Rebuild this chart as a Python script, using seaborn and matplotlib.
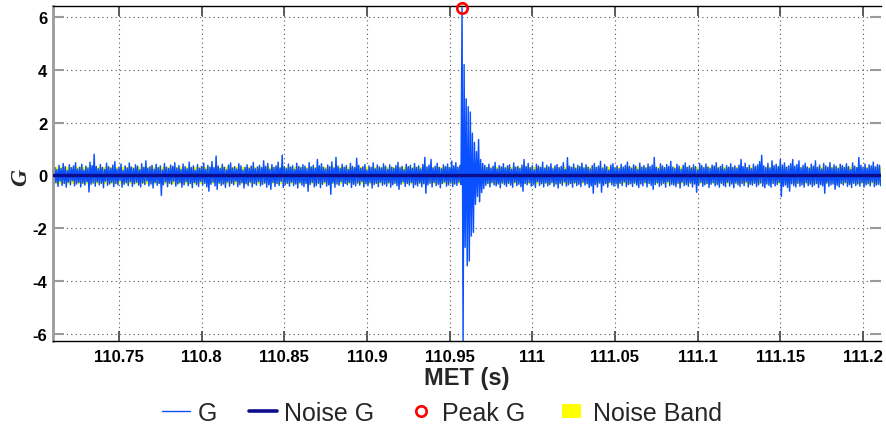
import numpy as np
import pandas as pd
import matplotlib
matplotlib.use("Agg")
import matplotlib.pyplot as plt
import seaborn as sns
from matplotlib.lines import Line2D
from matplotlib.patches import Patch, Rectangle
from matplotlib.legend_handler import HandlerPatch

# ---- data: G trace stored as per-bin maximum / minimum ----
met_start = 110.71
bin_width = 0.00125

g_max = [
    0.54, 0.30, 0.22, 0.38, 0.26, 0.45, 0.33, 0.18, 0.40, 0.29, 0.36, 0.48, 0.24, 0.31, 0.42, 0.20, 0.35, 0.28, 0.50, 0.37,
    0.80, 0.34, 0.25, 0.41, 0.30, 0.22, 0.46, 0.33, 0.27, 0.39, 0.52, 0.24, 0.31, 0.43, 0.19, 0.36, 0.28, 0.47, 0.32, 0.26,
    0.40, 0.35, 0.21, 0.44, 0.30, 0.55, 0.27, 0.33, 0.38, 0.23, 0.42, 0.29, 0.36, 0.20, 0.45, 0.31, 0.26, 0.39, 0.34, 0.48,
    0.28, 0.37, 0.22, 0.43, 0.33, 0.25, 0.50, 0.30, 0.36, 0.19, 0.41, 0.27, 0.34, 0.46, 0.23, 0.38, 0.31, 0.52, 0.29, 0.73,
    0.35, 0.26, 0.42, 0.31, 0.21, 0.39, 0.47, 0.28, 0.33, 0.24, 0.44, 0.36, 0.20, 0.30, 0.40, 0.27, 0.35, 0.49, 0.25, 0.32,
    0.38, 0.29, 0.55, 0.34, 0.45, 0.23, 0.41, 0.30, 0.36, 0.50, 0.28, 0.77, 0.33, 0.26, 0.43, 0.31, 0.37, 0.22, 0.46, 0.34,
    0.29, 0.40, 0.35, 0.25, 0.48, 0.32, 0.38, 0.27, 0.60, 0.36, 0.44, 0.30, 0.24, 0.39, 0.33, 0.51, 0.28, 0.68, 0.35, 0.26,
    0.42, 0.31, 0.37, 0.22, 0.45, 0.34, 0.29, 0.65, 0.38, 0.27, 0.33, 0.41, 0.20, 0.36, 0.30, 0.47, 0.25, 0.39, 0.32, 0.28,
    0.44, 0.35, 0.23, 0.40, 0.31, 0.27, 0.37, 0.49, 0.29, 0.34, 0.21, 0.42, 0.33, 0.38, 0.26, 0.45, 0.30, 0.36, 0.24, 0.41,
    0.68, 0.32, 0.39, 0.60, 0.28, 0.35, 0.46, 0.30, 0.25, 0.40, 0.33, 0.43, 0.29, 0.54, 0.36, 0.48, 0.31, 0.38, 6.35, 4.20,
    2.90, 2.60, 2.40, 1.60, 1.25, 0.90, 1.36, 0.60, 0.45, 0.38, 0.30, 0.42, 0.27, 0.35, 0.49, 0.24, 0.37, 0.32, 0.44, 0.28,
    0.36, 0.40, 0.23, 0.47, 0.31, 0.34, 0.26, 0.39, 0.60, 0.33, 0.45, 0.29, 0.37, 0.21, 0.42, 0.35, 0.30, 0.50, 0.27, 0.38,
    0.32, 0.44, 0.25, 0.36, 0.41, 0.29, 0.34, 0.48, 0.22, 0.67, 0.35, 0.30, 0.43, 0.26, 0.38, 0.33, 0.46, 0.28, 0.40, 0.31,
    0.24, 0.37, 0.45, 0.30, 0.35, 0.53, 0.27, 0.41, 0.33, 0.20, 0.39, 0.44, 0.29, 0.36, 0.25, 0.42, 0.31, 0.38, 0.50, 0.34,
    0.27, 0.40, 0.35, 0.22, 0.46, 0.31, 0.37, 0.28, 0.43, 0.33, 0.39, 0.68, 0.30, 0.25, 0.44, 0.36, 0.29, 0.41, 0.34, 0.53,
    0.31, 0.26, 0.42, 0.35, 0.23, 0.38, 0.47, 0.30, 0.36, 0.28, 0.40, 0.33, 0.21, 0.45, 0.37, 0.29, 0.43, 0.32, 0.26, 0.39,
    0.35, 0.48, 0.28, 0.34, 0.41, 0.24, 0.37, 0.31, 0.44, 0.30, 0.36, 0.27, 0.39, 0.60, 0.33, 0.46, 0.29, 0.38, 0.25, 0.42,
    0.34, 0.40, 0.52, 0.76, 0.36, 0.30, 0.45, 0.28, 0.55, 0.37, 0.42, 0.33, 0.60, 0.39, 0.47, 0.31, 0.36, 0.44, 0.60, 0.35,
    0.41, 0.55, 0.29, 0.38, 0.46, 0.32, 0.27, 0.43, 0.35, 0.55, 0.30, 0.39, 0.24, 0.45, 0.36, 0.31, 0.48, 0.28, 0.40, 0.34,
    0.26, 0.42, 0.37, 0.30, 0.44, 0.33, 0.22, 0.47, 0.35, 0.29, 0.68, 0.38, 0.31, 0.43, 0.27, 0.40, 0.36, 0.50, 0.32, 0.41,
    0.38,
]

g_min = [
    -0.35, -0.28, -0.42, -0.22, -0.38, -0.31, -0.45, -0.26, -0.36, -0.20, -0.40, -0.33, -0.27, -0.44, -0.30, -0.37, -0.24, -0.63, -0.34, -0.29,
    -0.41, -0.25, -0.36, -0.30, -0.47, -0.22, -0.38, -0.33, -0.27, -0.43, -0.31, -0.36, -0.20, -0.45, -0.34, -0.28, -0.39, -0.24, -0.42, -0.32,
    -0.26, -0.37, -0.44, -0.29, -0.35, -0.21, -0.40, -0.33, -0.48, -0.27, -0.38, -0.31, -0.76, -0.36, -0.25, -0.43, -0.30, -0.34, -0.22, -0.41,
    -0.33, -0.28, -0.45, -0.36, -0.24, -0.39, -0.31, -0.47, -0.27, -0.35, -0.42, -0.23, -0.37, -0.30, -0.44, -0.60, -0.34, -0.26, -0.40, -0.53,
    -0.29, -0.38, -0.33, -0.46, -0.25, -0.41, -0.30, -0.36, -0.22, -0.43, -0.35, -0.28, -0.48, -0.32, -0.39, -0.26, -0.44, -0.31, -0.37, -0.24,
    -0.40, -0.34, -0.29, -0.45, -0.36, -0.53, -0.27, -0.42, -0.31, -0.38, -0.23, -0.46, -0.35, -0.30, -0.41, -0.26, -0.39, -0.33, -0.48, -0.28,
    -0.37, -0.43, -0.31, -0.60, -0.35, -0.27, -0.44, -0.39, -0.30, -0.47, -0.34, -0.25, -0.41, -0.36, -0.72, -0.29, -0.45, -0.33, -0.38, -0.24,
    -0.42, -0.31, -0.36, -0.27, -0.46, -0.34, -0.40, -0.29, -0.37, -0.23, -0.44, -0.32, -0.39, -0.28, -0.48, -0.35, -0.30, -0.43, -0.26, -0.38,
    -0.33, -0.41, -0.28, -0.45, -0.36, -0.30, -0.39, -0.53, -0.34, -0.25, -0.42, -0.31, -0.37, -0.27, -0.46, -0.35, -0.40, -0.29, -0.43, -0.32,
    -0.68, -0.36, -0.30, -0.44, -0.27, -0.39, -0.34, -0.47, -0.31, -0.25, -0.41, -0.36, -0.29, -0.43, -0.33, -0.38, -0.26, -0.35, -6.30, -2.73,
    -3.43, -3.25, -2.30, -2.16, -1.10, -0.80, -1.00, -0.65, -0.50, -0.38, -0.31, -0.44, -0.27, -0.36, -0.40, -0.33, -0.47, -0.29, -0.35, -0.42,
    -0.30, -0.37, -0.45, -0.26, -0.39, -0.34, -0.43, -0.60, -0.31, -0.36, -0.28, -0.41, -0.35, -0.46, -0.24, -0.38, -0.32, -0.44, -0.29, -0.40,
    -0.35, -0.27, -0.42, -0.33, -0.48, -0.30, -0.38, -0.25, -0.41, -0.36, -0.31, -0.45, -0.28, -0.39, -0.34, -0.43, -0.26, -0.37, -0.32, -0.46,
    -0.40, -0.68, -0.35, -0.44, -0.29, -0.64, -0.38, -0.31, -0.45, -0.27, -0.36, -0.41, -0.33, -0.48, -0.30, -0.39, -0.25, -0.43, -0.35, -0.32,
    -0.42, -0.29, -0.37, -0.46, -0.33, -0.40, -0.27, -0.44, -0.31, -0.38, -0.53, -0.35, -0.28, -0.42, -0.36, -0.30, -0.45, -0.24, -0.39, -0.34,
    -0.37, -0.43, -0.30, -0.48, -0.26, -0.39, -0.35, -0.41, -0.29, -0.44, -0.33, -0.64, -0.38, -0.27, -0.42, -0.36, -0.31, -0.46, -0.34, -0.28,
    -0.40, -0.35, -0.45, -0.30, -0.38, -0.43, -0.26, -0.41, -0.33, -0.47, -0.29, -0.36, -0.42, -0.31, -0.39, -0.25, -0.44, -0.34, -0.37, -0.30,
    -0.43, -0.36, -0.29, -0.41, -0.47, -0.33, -0.38, -0.45, -0.31, -0.40, -0.35, -0.27, -0.80, -0.42, -0.37, -0.46, -0.60, -0.32, -0.39, -0.44,
    -0.30, -0.41, -0.36, -0.45, -0.28, -0.39, -0.34, -0.43, -0.37, -0.31, -0.46, -0.35, -0.40, -0.68, -0.29, -0.42, -0.36, -0.33, -0.53, -0.38,
    -0.44, -0.31, -0.37, -0.27, -0.42, -0.35, -0.46, -0.30, -0.39, -0.33, -0.41, -0.28, -0.45, -0.36, -0.32, -0.40, -0.26, -0.43, -0.37, -0.34,
    -0.39,
]

noise_g = 0.01
band_lo = -0.30
band_hi = 0.34

x_ticks = [110.75, 110.8, 110.85, 110.9, 110.95, 111.0, 111.05, 111.1, 111.15, 111.2]
x_tick_labels = ["110.75", "110.8", "110.85", "110.9", "110.95", "111",
                 "111.05", "111.1", "111.15", "111.2"]
y_ticks = [-6, -4, -2, 0, 2, 4, 6]
y_tick_labels = ["-6", "-4", "-2", "0", "2", "4", "6"]

# ---- build the min/max trace: each bin contributes its max then its min ----
n_bins = len(g_max)
t_bins = met_start + bin_width * np.arange(n_bins)
t_trace = np.column_stack([t_bins, t_bins + bin_width / 2]).ravel()
g_trace = np.column_stack([g_max, g_min]).ravel()
trace = pd.DataFrame({"MET": t_trace, "G": g_trace})

sns.set_theme(style="white")
plt.rcParams["font.family"] = ["Liberation Sans", "DejaVu Sans"]

W, H = 886, 427
fig = plt.figure(figsize=(W / 100, H / 100), dpi=100)
ax = fig.add_axes([53 / W, 1 - 342 / H, 828 / W, 335 / H])

g_color = "#0a50ff"
noise_color = "#0c0c8c"
band_color = "#ffff00"

ax.fill_between(t_trace, band_lo, band_hi, color=band_color, lw=0, zorder=1)
sns.lineplot(data=trace, x="MET", y="G", ax=ax, color=g_color, lw=1.05,
             estimator=None, sort=False, zorder=2, legend=False)
ax.axhline(noise_g, color=noise_color, lw=2.4, zorder=3)

k_peak = int(np.argmax(g_max))
ax.plot([t_bins[k_peak]], [g_max[k_peak]], marker="o", ms=7.5, mfc="none",
        mec="red", mew=1.9, ls="none", zorder=6, clip_on=False)

ax.set_xlim(110.7101, 111.2109)
ax.set_ylim(-6.28, 6.42)

ax.set_xticks(x_ticks)
ax.set_xticklabels(x_tick_labels, fontweight="bold", fontsize=12)
ax.set_yticks(y_ticks)
ax.set_yticklabels(y_tick_labels, fontweight="bold", fontsize=12)

ax.grid(True, color="#555555", linestyle=(0, (1, 3)), lw=0.8)
ax.set_axisbelow(True)

ax.tick_params(axis="x", direction="in", length=7, width=1.2, top=True,
               bottom=True, color="#444444", pad=6, labelcolor="black")
ax.tick_params(axis="y", direction="in", length=8, width=1.5, left=True,
               right=True, color="#9a9a9a", pad=4, labelcolor="black")

ax.spines["left"].set_color("#9a9a9a")
ax.spines["left"].set_linewidth(2.0)
ax.spines["top"].set_color("black")
ax.spines["top"].set_linewidth(1.0)
ax.spines["bottom"].set_color("black")
ax.spines["bottom"].set_linewidth(1.0)
ax.spines["right"].set_visible(False)

ax.set_xlabel("MET (s)", fontweight="bold", fontsize=17)
ax.xaxis.set_label_coords(0.5, -0.076)
ax.set_ylabel("G", fontfamily=["Liberation Serif", "DejaVu Serif"],
              fontweight="bold", fontstyle="italic", fontsize=17)
ax.yaxis.set_label_coords(-0.026, 0.49)


def square_patch(legend, orig_handle, xdescent, ydescent, width, height, fontsize):
    w, h = 13.0, 9.5
    return Rectangle((-xdescent + (width - w) / 2, -ydescent + (height - h) / 2), w, h)


handles = [
    Line2D([], [], color=g_color, lw=1.0),
    Line2D([], [], color=noise_color, lw=2.6),
    Line2D([], [], color="red", marker="o", ms=7.5, mfc="none", mew=1.9, ls="none"),
    Patch(facecolor=band_color, edgecolor="none"),
]
labels = ["G", "Noise G", "Peak G", "Noise Band"]
fig.legend(handles, labels, loc="center", bbox_to_anchor=(0.499, 0.031),
           ncol=4, frameon=False, fontsize=18, handlelength=1.1,
           handletextpad=0.3, columnspacing=1.3,
           handler_map={Patch: HandlerPatch(patch_func=square_patch)})

fig.savefig("out.png", dpi=100)
